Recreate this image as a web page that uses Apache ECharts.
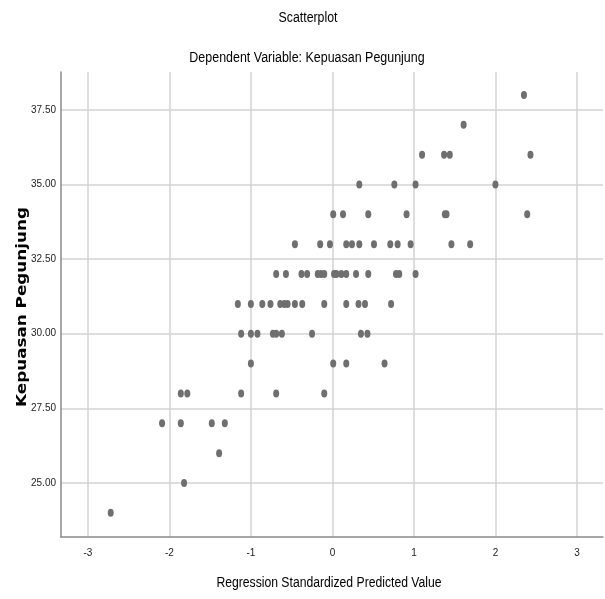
<!DOCTYPE html>
<html>
<head>
<meta charset="utf-8">
<script src="https://cdn.jsdelivr.net/npm/echarts@6/dist/echarts.min.js"></script>
<style>html,body{margin:0;padding:0;background:#fff;}#chart{width:605px;height:599px;}</style>
</head>
<body>
<div id="chart"></div>
<script>
// Dependent variable values (rows) and the standardized predicted values read for each row
const yValues = [38, 37, 36, 35, 34, 33, 32, 31, 30, 29, 28, 27, 26, 25, 24];
const xByRow = [
  [2.35],
  [1.61],
  [1.10, 1.37, 1.44, 2.43],
  [0.33, 0.76, 1.02, 2.00],
  [0.01, 0.13, 0.44, 0.91, 1.38, 1.40, 2.39],
  [-0.46, -0.15, -0.03, 0.17, 0.24, 0.33, 0.51, 0.71, 0.80, 0.96, 1.46, 1.69],
  [-0.69, -0.57, -0.38, -0.31, -0.18, -0.14, -0.10, 0.02, 0.05, 0.11, 0.17, 0.29, 0.44, 0.78, 0.82, 1.02],
  [-1.16, -1.00, -0.86, -0.76, -0.64, -0.59, -0.55, -0.46, -0.37, -0.10, 0.17, 0.32, 0.40, 0.72],
  [-1.12, -1.00, -0.92, -0.73, -0.69, -0.62, -0.25, 0.35, 0.43],
  [-1.00, 0.01, 0.17, 0.64],
  [-1.86, -1.78, -1.12, -0.69, -0.10],
  [-2.09, -1.86, -1.48, -1.32],
  [-1.39],
  [-1.82],
  [-2.72]
];
const titleText = 'Scatterplot';
const subtitleText = 'Dependent Variable: Kepuasan Pegunjung';
const xName = 'Regression Standardized Predicted Value';
const yName = 'Kepuasan Pegunjung';

const points = [];
yValues.forEach((y, i) => xByRow[i].forEach(x => points.push([x, y])));

const sans = '"Liberation Sans", Arial, sans-serif';
function label(text, x, y, opts) {
  return Object.assign({
    type: 'text', x: x, y: y, silent: true,
    style: {text: text, fill: '#000', fontFamily: sans, fontSize: 14,
            align: 'center', verticalAlign: 'middle',
            textAlign: 'center', textVerticalAlign: 'middle'}
  }, opts || {});
}

const chart = echarts.init(document.getElementById('chart'), null, {renderer: 'canvas'});
chart.setOption({
  backgroundColor: '#fff',
  animation: false,
  graphic: [
    label(titleText, 308, 18, {scaleX: 0.88}),
    label(subtitleText, 307, 58, {scaleX: 0.89}),
    label(xName, 329, 583, {scaleX: 0.87}),
    Object.assign(label(yName, 22, 307, {scaleX: 1.2, rotation: Math.PI / 2}), {}),
  ].map((g, i) => {
    if (i === 3) {
      g.style.fontFamily = '"DejaVu Sans", sans-serif';
      g.style.fontWeight = 'bold';
      g.style.fontSize = 14;
    }
    return g;
  }),
  grid: {left: 61, right: 2, top: 72, bottom: 62, containLabel: false},
  xAxis: {
    type: 'value', min: -3.33, max: 3.32, minInterval: 1, maxInterval: 1,
    axisLine: {show: true, onZero: false, lineStyle: {color: '#8a8a8a', width: 1.5}},
    axisTick: {show: false},
    axisLabel: {showMinLabel: false, showMaxLabel: false, margin: 11,
      fontFamily: sans, fontSize: 10, color: '#222'},
    splitLine: {show: true, showMinLine: false, showMaxLine: false,
      lineStyle: {color: '#d3d3d3', width: 1.5}}
  },
  yAxis: {
    type: 'value', min: 23.19, max: 38.77, minInterval: 2.5, maxInterval: 2.5,
    axisLine: {show: true, onZero: false, lineStyle: {color: '#8a8a8a', width: 1.5}},
    axisTick: {show: false},
    axisLabel: {showMinLabel: false, showMaxLabel: false, margin: 5,
      fontFamily: sans, fontSize: 10, color: '#222',
      formatter: v => v.toFixed(2)},
    splitLine: {show: true, showMinLine: false, showMaxLine: false,
      lineStyle: {color: '#d3d3d3', width: 1.5}}
  },
  series: [{
    type: 'scatter',
    data: points,
    symbol: 'circle',
    symbolSize: [6, 8],
    itemStyle: {color: '#6f6f6f', opacity: 1},
    emphasis: {disabled: true}
  }]
});
</script>
</body>
</html>
